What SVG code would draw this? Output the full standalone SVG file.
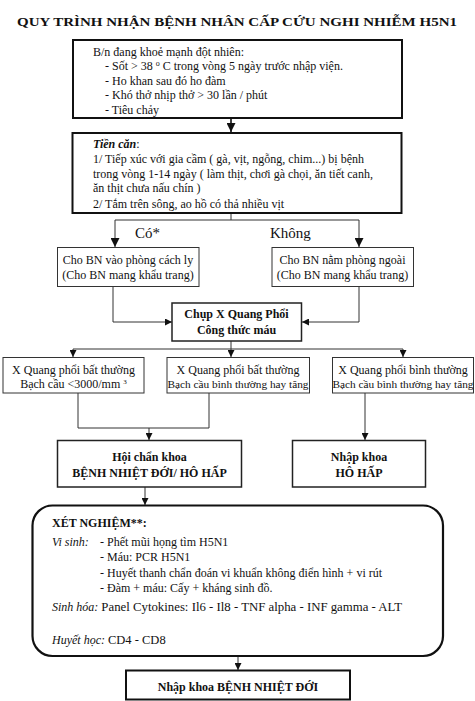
<svg xmlns="http://www.w3.org/2000/svg" width="475" height="701" viewBox="0 0 475 701">
<defs>
<marker id="ah" viewBox="0 0 10 10" refX="10" refY="5" markerWidth="7" markerHeight="7" markerUnits="userSpaceOnUse" orient="auto">
<path d="M0,0 L10,5 L0,10 z" fill="#111"/>
</marker>
<marker id="ahb" viewBox="0 0 10 10" refX="10" refY="5" markerWidth="9" markerHeight="9" markerUnits="userSpaceOnUse" orient="auto">
<path d="M0,0 L10,5 L0,10 z" fill="#111"/>
</marker>
</defs>
<style>
text{font-family:"Liberation Serif","Times New Roman",serif;fill:#111;font-size:12px}
.b{font-weight:bold}
.i{font-style:italic}
.c{text-anchor:middle}
.thick{fill:#fff;stroke:#111;stroke-width:2}
.mid{fill:#fff;stroke:#222;stroke-width:1.5}
.thin{fill:#fff;stroke:#333;stroke-width:1}
.ln{fill:none;stroke:#333;stroke-width:1}
.lnb{fill:none;stroke:#111;stroke-width:1.6}
.s11{font-size:11.3px}
.lbl{font-size:15px}
</style>
<rect width="475" height="701" fill="#fff"/>
<text class="b c" x="237" y="26" font-size="16" textLength="440" lengthAdjust="spacingAndGlyphs">QUY TRÌNH NHẬN BỆNH NHÂN CẤP CỨU NGHI NHIỄM H5N1</text>

<g id="connectors">
<path class="lnb" d="M231,118 V132" marker-end="url(#ahb)"/>
<path class="ln" d="M231,213 V220 M115,220 H359"/>
<path class="ln" d="M115,220 V247" marker-end="url(#ahb)"/>
<path class="ln" d="M359,220 V247" marker-end="url(#ahb)"/>
<path class="ln" d="M113,287 V322 H172" marker-end="url(#ah)"/>
<path class="ln" d="M359,287 V322 H302" marker-end="url(#ah)"/>
<path class="ln" d="M231,341 V349 M73,349 H403"/>
<path class="ln" d="M73,349 V357" marker-end="url(#ah)"/>
<path class="ln" d="M231,349 V357" marker-end="url(#ah)"/>
<path class="ln" d="M403,349 V357" marker-end="url(#ah)"/>
<path class="ln" d="M78,393 V428 H209 V393"/>
<path class="ln" d="M149,428 V440" marker-end="url(#ah)"/>
<path class="ln" d="M365,393 V440" marker-end="url(#ah)"/>
<path class="ln" d="M145,487 V505" marker-end="url(#ah)"/>
<path class="ln" d="M238,656 V670" marker-end="url(#ah)"/>
<text class="lbl" x="135" y="238">Có*</text>
<text class="lbl" x="270" y="238">Không</text>
</g>

<g id="n-trieuchung">
<rect class="thick" x="73" y="40" width="329" height="78"/>
<text x="93" y="56">B/n đang khoẻ mạnh đột nhiên:</text>
<text x="105" y="70">- Sốt &gt; 38 <tspan font-size="8" dy="-4">o</tspan><tspan dy="4"> C  trong vòng 5 ngày trước nhập viện.</tspan></text>
<text x="105" y="85">- Ho khan sau đó ho đàm</text>
<text x="105" y="99">- Khó thở nhịp thở &gt; 30 lần / phút</text>
<text x="105" y="114">- Tiêu chảy</text>
</g>

<g id="n-tiencan">
<rect class="thick" x="72.5" y="133" width="329" height="80"/>
<text x="93" y="148"><tspan class="b i">Tiền căn</tspan>:</text>
<text x="93" y="163">1/ Tiếp xúc với gia cầm ( gà, vịt, ngỗng, chim...) bị bệnh</text>
<text x="93" y="178">trong vòng 1-14 ngày ( làm thịt, chơi gà chọi, ăn tiết canh,</text>
<text x="93" y="192">ăn thịt chưa nấu chín )</text>
<text x="93" y="208">2/  Tắm trên sông, ao hồ có thả nhiều vịt</text>
</g>

<g id="n-cachly">
<rect class="thin" x="57.5" y="247.5" width="141.5" height="39"/>
<text class="c" x="128" y="264">Cho BN vào phòng cách ly</text>
<text class="c" x="128" y="279">(Cho BN mang khẩu trang)</text>
</g>

<g id="n-phongngoai">
<rect class="thin" x="272" y="247.5" width="141.5" height="39"/>
<text class="c" x="342.5" y="264">Cho BN nằm phòng ngoài</text>
<text class="c" x="342.5" y="279">(Cho BN mang khẩu trang)</text>
</g>

<g id="n-xquang">
<rect class="mid" x="172" y="303" width="129.5" height="38"/>
<text class="b c" x="236.5" y="318">Chụp X Quang Phổi</text>
<text class="b c" x="236.5" y="334">Công thức máu</text>
</g>

<g id="n-bt1">
<rect class="thin" x="3" y="357.5" width="141" height="35.5"/>
<text class="c" x="73.5" y="374">X Quang phổi bất thường</text>
<text class="c" x="73.5" y="388">Bạch cầu &lt;3000/mm <tspan font-size="7" dy="-4">3</tspan></text>
</g>

<g id="n-bt2">
<rect class="thin" x="167" y="357.5" width="142.5" height="35.5"/>
<text class="c" x="238" y="374">X Quang phổi bất thường</text>
<text class="c s11" x="238" y="388">Bạch cầu bình thường hay tăng</text>
</g>

<g id="n-bt3">
<rect class="thin" x="332.5" y="357.5" width="141" height="35.5"/>
<text class="c" x="403" y="374">X Quang phổi bình thường</text>
<text class="c s11" x="403" y="388">Bạch cầu bình thường hay tăng</text>
</g>

<g id="n-hoichan">
<rect class="mid" x="57.5" y="440.5" width="184" height="46.5"/>
<text class="b c" x="149.5" y="461">Hội chẩn khoa</text>
<text class="b c" x="149.5" y="477">BỆNH NHIỆT ĐỚI/ HÔ HẤP</text>
</g>

<g id="n-hohap">
<rect class="mid" x="292.5" y="440.5" width="133" height="46.5"/>
<text class="b c" x="359" y="461">Nhập khoa</text>
<text class="b c" x="359" y="477">HÔ HẤP</text>
</g>

<g id="n-xetnghiem">
<rect x="32.5" y="505.5" width="410.5" height="150.5" rx="20" ry="20" fill="#fff" stroke="#111" stroke-width="2.2"/>
<text class="b" x="52" y="527">XÉT NGHIỆM**:</text>
<text class="i" x="52" y="546">Vi sinh:</text>
<text x="100" y="546">- Phết mũi họng tìm H5N1</text>
<text x="100" y="561">- Máu: PCR H5N1</text>
<text x="100" y="577">- Huyết thanh chẩn đoán  vi khuẩn không điển hình +  vi rút</text>
<text x="100" y="592">- Đàm + máu: Cấy + kháng sinh đồ.</text>
<text x="52" y="611"><tspan class="i">Sinh hóa:</tspan> <tspan font-size="12.8">Panel Cytokines: Il6 - Il8 - TNF alpha - INF gamma - ALT</tspan></text>
<text x="52" y="644"><tspan class="i">Huyết học:</tspan> <tspan font-size="12.5">CD4 - CD8</tspan></text>
</g>

<g id="n-nhietdoi">
<rect class="thick" x="126" y="670.5" width="224" height="29"/>
<text class="b c" x="238" y="691" font-size="14">Nhập khoa BỆNH NHIỆT ĐỚI</text>
</g>
</svg>
